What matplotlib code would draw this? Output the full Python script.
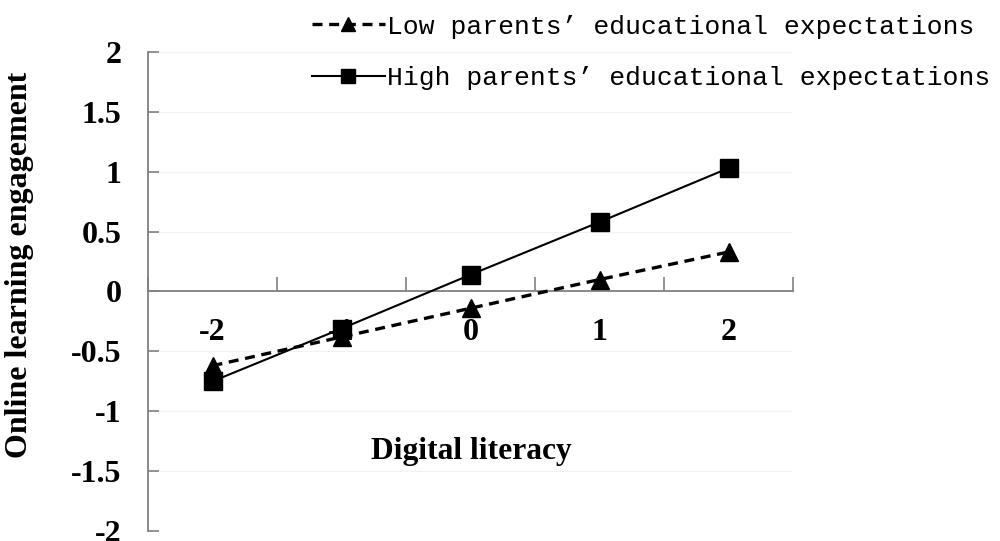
import matplotlib
matplotlib.use("Agg")
import matplotlib.pyplot as plt
import numpy as np

categories = ["-2", "-1", "0", "1", "2"]
low_expect = [-0.62, -0.38, -0.14, 0.10, 0.33]
high_expect = [-0.75, -0.31, 0.14, 0.58, 1.03]
series_labels = ["Low parents\u2019 educational expectations",
                 "High parents\u2019 educational expectations"]
y_ticks = [-2, -1.5, -1, -0.5, 0, 0.5, 1, 1.5, 2]

serif = ["Liberation Serif", "DejaVu Serif"]

fig = plt.figure(figsize=(10, 5.41), dpi=100)
ax = fig.add_axes([0.148, 0.0185, 0.645, 0.8854])

x = np.arange(len(categories))
ax.set_xlim(-0.5, len(categories) - 0.5)
ax.set_ylim(-2, 2)

for yv in y_ticks:
    if yv != 0:
        ax.axhline(yv, color="#f2f2f2", lw=0.8, zorder=0)

l1, = ax.plot(x, low_expect, color="black", lw=2.4, ls=(0, (3, 2)),
              marker="^", markersize=13, zorder=4, label=series_labels[0])
l2, = ax.plot(x, high_expect, color="black", lw=1.5, ls="-",
              marker="s", markersize=13, zorder=5, label=series_labels[1])

# spines
for s in ["top", "right"]:
    ax.spines[s].set_visible(False)
ax.spines["bottom"].set_position(("data", 0))
ax.spines["bottom"].set_color("#808080")
ax.spines["left"].set_color("#808080")
ax.spines["bottom"].set_linewidth(1.3)
ax.spines["left"].set_linewidth(1.3)

ax.set_yticks(y_ticks)
ax.set_yticklabels(["%g" % v for v in y_ticks], fontfamily=serif,
                   fontweight="bold", fontsize=23)
ax.tick_params(axis="y", direction="in", length=8, width=1.2,
               color="#808080", pad=19)

ax.set_xticks(x)
ax.set_xticklabels(categories, fontfamily=serif, fontweight="bold", fontsize=23)
ax.set_xticks(np.arange(-0.5, len(categories), 1.0), minor=True)
ax.tick_params(axis="x", which="major", length=0, pad=19)
ax.tick_params(axis="x", which="minor", direction="in", length=10,
               width=1.2, color="#808080")
for lab in ax.get_xticklabels():
    lab.set_zorder(1)

ax.set_ylabel("Online learning engagement", fontfamily=serif,
              fontweight="bold", fontsize=23)
ax.yaxis.set_label_coords(-0.176, 0.556)
ax.text(0.502, 0.165, "Digital literacy", transform=ax.transAxes,
        ha="center", va="center", fontfamily=serif, fontweight="bold",
        fontsize=22.7)

leg = fig.legend(handles=[l1, l2], loc="upper left",
                 bbox_to_anchor=(0.297, 1.0), frameon=False,
                 prop={"family": ["Liberation Mono", "DejaVu Sans Mono"], "size": 19},
                 handlelength=2.8, handletextpad=0.05, labelspacing=1.05,
                 borderaxespad=0.15, markerscale=0.8)

fig.savefig("out.png", dpi=100)
